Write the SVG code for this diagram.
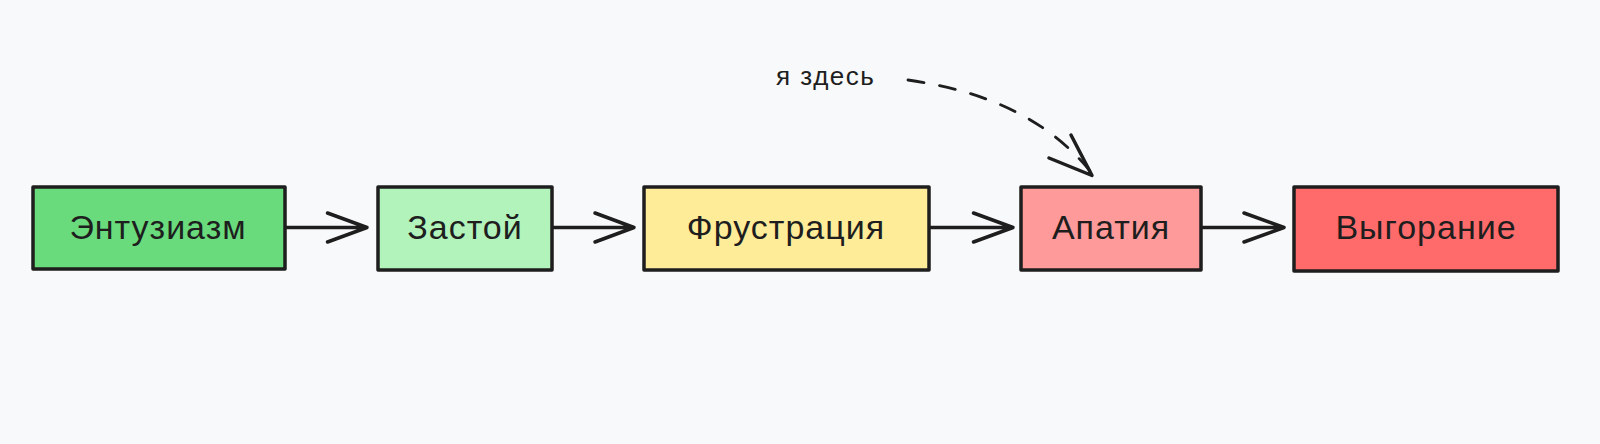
<svg xmlns="http://www.w3.org/2000/svg" width="1600" height="444" viewBox="0 0 1600 444">
<style>
.box{stroke:#1e1e1e;stroke-width:3.5;stroke-linejoin:round}
.lbl{font-family:"Liberation Sans","DejaVu Sans",sans-serif;font-size:34px;letter-spacing:1px;fill:#1e1e1e;text-anchor:middle}
.edge{fill:none;stroke:#1e1e1e;stroke-width:3.5;stroke-linecap:round;stroke-linejoin:round}
.dash{stroke-dasharray:16 16;stroke-width:2.8}
</style>
<rect width="1600" height="444" fill="#f8f9fa"/>
<g id="n1"><rect class="box" x="33" y="187" width="252" height="82" fill="#69db7c"/><text class="lbl" x="158" y="239">Энтузиазм</text></g>
<g id="n2"><rect class="box" x="378" y="187" width="174" height="83" fill="#b2f2bb"/><text class="lbl" x="465" y="239">Застой</text></g>
<g id="n3"><rect class="box" x="644" y="187" width="285" height="83" fill="#ffec99"/><text class="lbl" x="786" y="239">Фрустрация</text></g>
<g id="n4"><rect class="box" x="1021" y="187" width="180" height="83" fill="#ff9a9a"/><text class="lbl" x="1111" y="239">Апатия</text></g>
<g id="n5"><rect class="box" x="1294" y="187" width="264" height="84" fill="#ff6b6b"/><text class="lbl" x="1426" y="239">Выгорание</text></g>
<text x="776" y="85" style="font-family:'Liberation Sans','DejaVu Sans',sans-serif;font-size:26px;letter-spacing:1.5px;fill:#1e1e1e">я здесь</text>
<g id="connectors">
<path class="edge" d="M286 227.5 L365 227.5 M327.5 213 L367 227.5 L327.5 242"/>
<path class="edge" d="M553 227.5 L632 227.5 M595 213 L634 227.5 L595 242"/>
<path class="edge" d="M930 227.5 L1011 227.5 M973.5 213 L1013 227.5 L973.5 242"/>
<path class="edge" d="M1202 227.5 L1282 227.5 M1244 213 L1284 227.5 L1244 242"/>
<path class="edge dash" d="M908 80 Q1030 97 1090 171"/>
<path class="edge" d="M1071 135 L1092 175.5 L1049 158"/>
</g>
</svg>
